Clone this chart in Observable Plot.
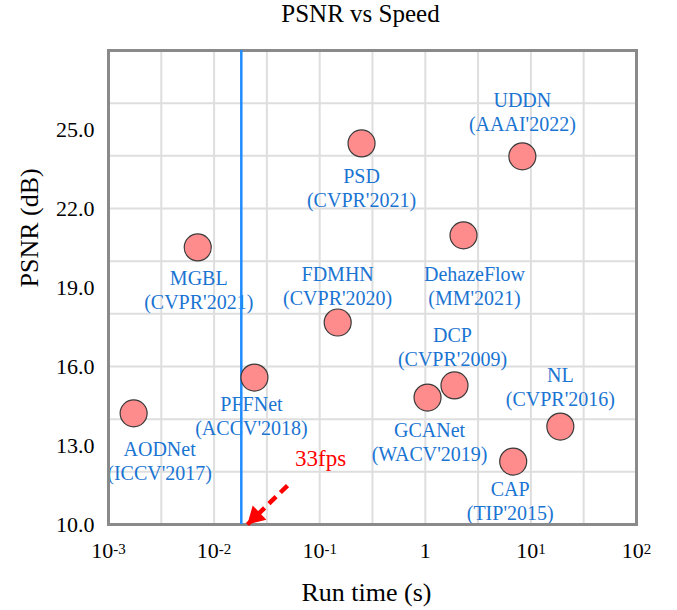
<!DOCTYPE html>
<html>
<head>
<meta charset="utf-8">
<script src="https://cdn.jsdelivr.net/npm/d3@7"></script>
<script src="https://cdn.jsdelivr.net/npm/@observablehq/plot@0.6"></script>
<style>
  html, body { margin: 0; padding: 0; background: white; }
</style>
</head>
<body>
<div id="chart"></div>
<script>
// ---- data ----
const methods = ["MGBL", "AODNet", "PFFNet", "FDMHN", "PSD", "UDDN", "DehazeFlow", "DCP", "GCANet", "NL", "CAP"];
const venues = ["(CVPR'2021)", "(ICCV'2017)", "(ACCV'2018)", "(CVPR'2020)", "(CVPR'2021)", "(AAAI'2022)", "(MM'2021)", "(CVPR'2009)", "(WACV'2019)", "(CVPR'2016)", "(TIP'2015)"];
const runTime = [0.0070, 0.00173, 0.0241, 0.148, 0.249, 8.3, 2.3, 1.89, 1.05, 19.0, 6.8];
const psnr = [20.52, 14.22, 15.58, 17.67, 24.47, 23.98, 20.98, 15.28, 14.82, 13.72, 12.39];

const xTicks = [0.001, 0.01, 0.1, 1, 10, 100];
const xTickLabels = ["10^-3", "10^-2", "10^-1", "1", "10^1", "10^2"];
const xGrid = [0.00316, 0.01, 0.0316, 0.1, 0.316, 1, 3.16, 10, 31.6];
const yTicks = [10, 13, 16, 19, 22, 25];
const yGrid = [12, 14, 16, 18, 20, 22, 24, 26];
const fpsLine = [0.0181];
const fpsArrow = [{x1: 0.0496, y1: 11.48, x2: 0.0207, y2: 10.0, label: "33fps"}];

const points = methods.map((m, i) => ({method: m, venue: venues[i], runTime: runTime[i], psnr: psnr[i]}));

// label placement (pixel offsets of label block centre from point)
const labelOffset = {
  MGBL: [1, 42], AODNet: [26, 47], PFFNet: [-3, 38], FDMHN: [0, -37], PSD: [0, 44],
  UDDN: [0, -45], DehazeFlow: [11, 50], DCP: [-2, -39], GCANet: [2, 44], NL: [0, -40], CAP: [-3, 39]
};

const serif = "'Liberation Serif', 'Times New Roman', serif";
const blue = "#1a74d2";
const labelMarks = points.map(p => Plot.text([p], {
  x: "runTime", y: "psnr",
  text: d => d.method + "\n" + d.venue,
  dx: labelOffset[p.method][0], dy: labelOffset[p.method][1],
  fill: blue, fontSize: 20, fontFamily: serif, lineHeight: 1.17, lineAnchor: "middle",
  ariaLabel: "pointlabel"
}));

const chart = Plot.plot({
  width: 677,
  height: 610,
  marginLeft: 108,
  marginRight: 41,
  marginTop: 50,
  marginBottom: 86,
  style: {fontFamily: serif, background: "white", color: "#000"},
  x: {type: "log", domain: [0.001, 100]},
  y: {domain: [10, 28]},
  marks: [
    Plot.ruleX(xGrid, {stroke: "#dedede", strokeWidth: 2}),
    Plot.ruleY(yGrid, {stroke: "#dedede", strokeWidth: 2}),
    ...labelMarks,
    Plot.frame({stroke: "#8a8a8a", strokeWidth: 3}),
    Plot.ruleX(fpsLine, {stroke: "#1e8cff", strokeWidth: 2.5}),
    Plot.dot(points, {x: "runTime", y: "psnr", r: 13.5, fill: "#ff8c8c", stroke: "#3a3a3a", strokeWidth: 1.2}),
    Plot.link(fpsArrow, {x1: "x1", y1: "y1", x2: "x2", y2: "y2", stroke: "#ff0000", strokeWidth: 4.5, strokeDasharray: "10,6"}),
    Plot.dot(fpsArrow, {x: "x2", y: "y2", symbol: "triangle", r: 7.3, fill: "#ff0000", stroke: "none", rotate: 226, dx: 8, dy: -8}),
    Plot.text(fpsArrow, {x: "x1", y: "y1", text: "label", dx: 33, dy: -27, fill: "#ff0000", fontSize: 23, fontFamily: serif}),
    Plot.axisX({ticks: xTicks, tickFormat: d => xTickLabels[xTicks.indexOf(d)], tickSize: 0, tickPadding: 18, fontSize: 22, fontFamily: serif, fill: "#000", label: null}),
    Plot.axisY({ticks: yTicks, tickFormat: d => d.toFixed(1), tickSize: 0, tickPadding: 14, fontSize: 22, fontFamily: serif, fill: "#000", label: null}),
    Plot.text(["PSNR vs Speed"], {frameAnchor: "top", dx: -12, dy: -37, fontSize: 25, fontFamily: serif, lineAnchor: "middle", fill: "#000"}),
    Plot.text(["Run time (s)"], {frameAnchor: "bottom", dx: -6, dy: 68, fontSize: 26, fontFamily: serif, lineAnchor: "middle", fill: "#000"}),
    Plot.text(["PSNR (dB)"], {frameAnchor: "left", dx: -79, rotate: -90, fontSize: 26, fontFamily: serif, lineAnchor: "middle", fill: "#000"})
  ]
});

document.getElementById("chart").appendChild(chart);

// superscripts on the x tick labels
chart.querySelectorAll("text").forEach(el => {
  const t = el.textContent;
  if (t.includes("^") && el.children.length === 0) {
    const [base, exp] = t.split("^");
    el.textContent = base;
    const ts = document.createElementNS("http://www.w3.org/2000/svg", "tspan");
    ts.setAttribute("dy", "-0.3em");
    ts.setAttribute("font-size", "0.68em");
    ts.textContent = exp;
    el.appendChild(ts);
  }
});

// white boxes behind the point labels
chart.querySelectorAll('g[aria-label="pointlabel"] text').forEach(el => {
  const b = el.getBBox();
  const r = document.createElementNS("http://www.w3.org/2000/svg", "rect");
  const pad = 2;
  r.setAttribute("x", b.x - pad);
  r.setAttribute("y", b.y - pad);
  r.setAttribute("width", b.width + 2 * pad);
  r.setAttribute("height", b.height + 2 * pad);
  r.setAttribute("fill", "white");
  r.setAttribute("stroke", "none");
  const tr = el.getAttribute("transform");
  if (tr) r.setAttribute("transform", tr);
  el.parentNode.insertBefore(r, el);
});
</script>
</body>
</html>
